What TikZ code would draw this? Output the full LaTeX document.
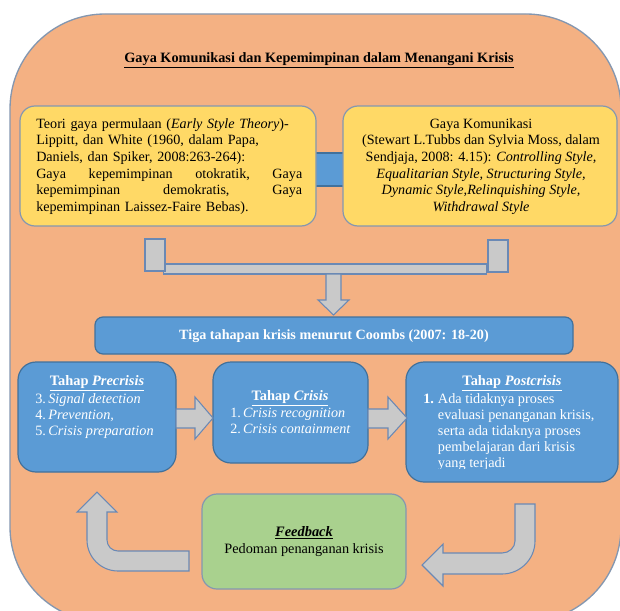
\documentclass[tikz,border=0pt]{standalone}
\usepackage{fontspec}
\setmainfont{Liberation Serif}
\definecolor{orangebg}{HTML}{F4B183}
\definecolor{outerline}{HTML}{8497B0}
\definecolor{yellowfill}{HTML}{FFD966}
\definecolor{yellowline}{HTML}{8497B0}
\definecolor{bluefill}{HTML}{5B9BD5}
\definecolor{blueline}{HTML}{41719C}
\definecolor{greyfill}{HTML}{C9C9C9}
\definecolor{greyline}{HTML}{6A89B5}
\definecolor{greenfill}{HTML}{A9D18E}
\definecolor{greenline}{HTML}{8497B0}
\def\px{0.75pt}
\begin{document}
\begin{tikzpicture}[x=0.75pt,y=-0.75pt,
  txt/.style={inner sep=0pt,font=\fontsize{10.6pt}{12.5pt}\selectfont},
  ybox/.style={draw=yellowline,fill=yellowfill,line width=0.9pt,rounded corners=15*\px,inner sep=0pt},
  stagebox/.style={draw=blueline,fill=bluefill,line width=0.9pt,rounded corners=18*\px,inner sep=0pt},
  greyarrow/.style={draw=greyline,fill=greyfill,line width=0.8pt,line join=miter},
  greybar/.style={draw=greyline,fill=greyfill,line width=0.8pt,inner sep=0pt}]
\useasboundingbox (0,0) rectangle (620,610);
\clip (0,0) rectangle (620,610);
% background
\draw[fill=orangebg,draw=outerline,line width=1pt,rounded corners=95*\px] (10,14) rectangle (621,622);
% title
\node[txt,font=\fontsize{10.7pt}{12.5pt}\selectfont\bfseries] (title) at (319,60) {\underline{Gaya Komunikasi dan Kepemimpinan dalam Menangani Krisis}};
% link between yellow boxes
\node[draw=blueline,fill=bluefill,line width=0.8pt,inner sep=0pt,minimum width=35*\px,minimum height=33*\px] (link) at (329.5,169.5) {};
% yellow boxes
\node[ybox,minimum width=296*\px,minimum height=120*\px] (early) at (168,166) {};
\node[ybox,minimum width=274*\px,minimum height=120*\px] (komunikasi) at (480,166) {};
\node[txt,anchor=north west,text width=199.5pt,align=left] (earlytext) at (36,118) {Teori gaya permulaan (\textit{Early Style Theory})-\\
Lippitt, dan White (1960, dalam Papa,\\
Daniels, dan Spiker, 2008:263-264):\\
\leavevmode\hbox to 199.5pt{Gaya\hfill kepemimpinan\hfill otokratik,\hfill Gaya}\\
\leavevmode\hbox to 199.5pt{kepemimpinan\hfill demokratis,\hfill Gaya}\\
kepemimpinan Laissez-Faire Bebas).};
\node[txt,anchor=north,align=center] (komtext) at (481,118) {Gaya Komunikasi\\
(Stewart L.Tubbs dan Sylvia Moss, dalam\\
Sendjaja, 2008: 4.15): \textit{Controlling Style,}\\
\textit{Equalitarian Style, Structuring Style,}\\
\textit{Dynamic Style,Relinquishing Style,}\\
\textit{Withdrawal Style}};
% bracket
\node[greybar,minimum width=323*\px,minimum height=10*\px] (bar) at (325,269) {};
\node[greybar,minimum width=20*\px,minimum height=32*\px] (tabl) at (155,255) {};
\node[greybar,minimum width=20*\px,minimum height=32*\px] (tabr) at (498,256) {};
\draw[greyarrow] (326,274) -- (341,274) -- (341,300) -- (349,300) -- (333.5,315) -- (318,300) -- (326,300) -- cycle;
% Coombs bar
\node[draw=blueline,fill=bluefill,line width=0.9pt,rounded corners=8*\px,inner sep=0pt,minimum width=478*\px,minimum height=37*\px] (coombs) at (334,335.5) {};
\node[txt,text=white,font=\fontsize{10.6pt}{12.5pt}\selectfont\bfseries] (coombstext) at (334,336) {Tiga tahapan krisis menurut Coombs (2007: 18-20)};
% stage boxes
\node[stagebox,minimum width=158*\px,minimum height=110*\px] (pre) at (97,417) {};
\node[stagebox,minimum width=155*\px,minimum height=101*\px] (crisis) at (290.5,412.5) {};
\node[stagebox,minimum width=212*\px,minimum height=120*\px] (post) at (512,422) {};
% arrows between stages
\draw[greyarrow] (176,409) -- (195,409) -- (195,397) -- (213,418) -- (195,439) -- (195,428) -- (176,428) -- cycle;
\draw[greyarrow] (368,409) -- (388,409) -- (388,397) -- (407,418) -- (388,439) -- (388,428) -- (368,428) -- cycle;
% stage texts
\node[txt,text=white,font=\fontsize{10.8pt}{12.5pt}\selectfont\bfseries] (pretitle) at (97,383) {\underline{Tahap \textit{Precrisis}}};
\node[txt,text=white,anchor=north west,align=left,font=\fontsize{10.7pt}{12pt}\selectfont] (preitems) at (35,393) {3.\,\textit{Signal detection}\\4.\,\textit{Prevention,}\\5.\,\textit{Crisis preparation}};
\node[txt,text=white,font=\fontsize{10.8pt}{12.5pt}\selectfont\bfseries] (crisistitle) at (290,398) {\underline{Tahap \textit{Crisis}}};
\node[txt,text=white,anchor=north west,align=left,font=\fontsize{10.6pt}{12pt}\selectfont] (crisisitems) at (230,408) {1.\,\textit{Crisis recognition}\\2.\,\textit{Crisis containment}};
\node[txt,text=white,font=\fontsize{10.8pt}{12.5pt}\selectfont\bfseries] (posttitle) at (512,383) {\underline{Tahap \textit{Postcrisis}}};
\begin{scope}
\clip (405,360) rectangle (620,468);
\node[txt,text=white,anchor=north west,font=\fontsize{10.7pt}{12pt}\selectfont] (postitems) at (423,392) {\begin{tabular}{@{}l@{\hspace{3pt}}l@{}}
\textbf{1.} & Ada tidaknya proses\\
 & evaluasi penanganan krisis,\\
 & serta ada tidaknya proses\\
 & pembelajaran dari krisis\\
 & yang terjadi
\end{tabular}};
\end{scope}
% feedback
\node[draw=greenline,fill=greenfill,line width=0.9pt,rounded corners=15*\px,inner sep=0pt,minimum width=204*\px,minimum height=95*\px] (feedback) at (304,541.5) {};
\node[txt,font=\fontsize{10.8pt}{12.5pt}\selectfont\bfseries\itshape] (fbtitle) at (304,533) {\underline{Feedback}};
\node[txt,font=\fontsize{10.7pt}{12.5pt}\selectfont] (fbtext) at (304,550) {Pedoman penanganan krisis};
% U-turn arrows
\draw[greyarrow] (189,571) -- (189,551) -- (118,551) .. controls (111.9,551) and (107,546.1) .. (107,540) -- (107,512) -- (117,512) -- (97,492) -- (77,512) -- (87,512) -- (87,540) .. controls (87,557.1) and (100.9,571) .. (118,571) -- cycle;
\draw[greyarrow] (515,504) -- (535,504) -- (535,541) .. controls (535,559.2) and (520.2,574) .. (502,574) -- (443,574) -- (443,586) -- (422,565) -- (443,544) -- (443,553) -- (502,553) .. controls (509.2,553) and (515,547.6) .. (515,541) -- cycle;
\end{tikzpicture}
\end{document}
